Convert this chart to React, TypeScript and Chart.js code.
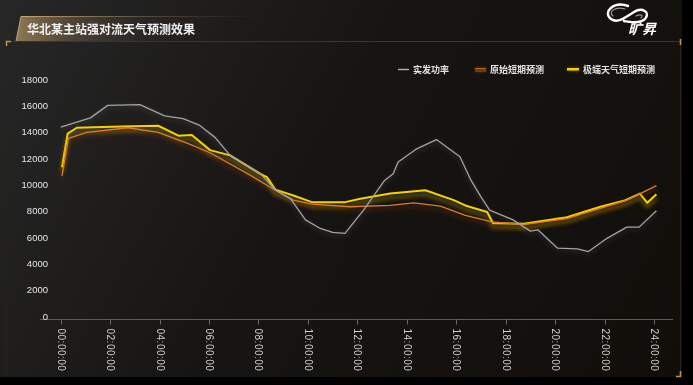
import React, { useEffect, useRef } from "react";
import { Chart, registerables } from "chart.js";

Chart.register(...registerables);

const TITLE = "华北某主站强对流天气预测效果";
const LOGO_TEXT = "旷昇";
const SERIES_NAMES = ["实发功率", "原始短期预测", "极端天气短期预测"];

const X_TICKS = [0, 2, 4, 6, 8, 10, 12, 14, 16, 18, 20, 22, 24];
const X_TICK_LABELS = [
  "00:00:00", "02:00:00", "04:00:00", "06:00:00", "08:00:00", "10:00:00", "12:00:00",
  "14:00:00", "16:00:00", "18:00:00", "20:00:00", "22:00:00", "24:00:00",
];
const Y_TICKS = [0, 2000, 4000, 6000, 8000, 10000, 12000, 14000, 16000, 18000];

// 实发功率
const actualHours = [0, 1.2, 1.9, 3.2, 4.2, 4.95, 5.6, 6.25, 6.85, 8.05, 8.7, 9.3, 9.9, 10.5, 11.0, 11.5, 12.25, 13.1, 13.45, 13.65, 14.4, 15.2, 16.15, 16.6, 17.0, 17.35, 18.3, 19.0, 19.3, 20.1, 20.9, 21.35, 22.1, 22.9, 23.4, 24.1];
const actualValues = [14500, 15200, 16150, 16200, 15350, 15150, 14650, 13700, 12350, 11000, 9700, 9050, 7450, 6800, 6500, 6420, 8200, 10450, 10950, 11850, 12850, 13550, 12250, 10450, 9200, 8200, 7450, 6600, 6700, 5300, 5250, 5050, 6050, 6900, 6900, 8150];

// 原始短期预测
const originalHours = [0.05, 0.31, 1.05, 2.73, 3.94, 5.16, 6.04, 7.66, 8.68, 9.41, 10.16, 11.71, 13.33, 14.28, 15.36, 16.37, 17.45, 18.73, 20.48, 22.91, 24.1];
const originalValues = [10800, 13650, 14100, 14450, 14100, 13250, 12550, 10850, 9700, 8950, 8650, 8450, 8550, 8750, 8500, 7800, 7300, 7100, 7550, 8950, 10050];

// 极端天气短期预测
const extremeHours = [0.05, 0.28, 0.65, 2.47, 3.94, 4.76, 5.3, 6.04, 6.85, 8.07, 8.34, 8.68, 9.41, 10.16, 11.51, 12.12, 13.33, 14.75, 15.9, 16.43, 17.25, 17.49, 18.73, 20.48, 21.83, 22.78, 23.43, 23.73, 24.1];
const extremeValues = [11450, 14000, 14450, 14550, 14600, 13850, 13900, 12750, 12350, 10950, 10700, 9750, 9300, 8800, 8800, 9050, 9450, 9700, 8950, 8500, 8050, 7200, 7150, 7650, 8450, 8900, 9450, 8750, 9400];

const toPoints = (xs: number[], ys: number[]) => xs.map((x, i) => ({ x, y: ys[i] }));

const LINE_COLORS = ["#a2a2a2", "#dc7a2e", "#f8d200"];
const LINE_WIDTHS = [1.3, 1.3, 2];
const SHADOWS = [
  { color: "rgba(150,150,150,0.35)", blur: 5, y: 2 },
  { color: "rgba(160,65,10,0.65)", blur: 4, y: 3 },
  { color: "rgba(170,150,0,0.8)", blur: 4, y: 4 },
];

const CJK = '"Noto Sans CJK SC", "Noto Sans", sans-serif';
const NUM = '"Liberation Sans", Arial, sans-serif';

const decoPlugin = {
  id: "deco",
  beforeDraw(chart: any) {
    const ctx: CanvasRenderingContext2D = chart.ctx;
    const W = chart.width, H = chart.height;
    ctx.save();
    ctx.fillStyle = "#000";
    ctx.fillRect(0, 0, W, H);
    const g = ctx.createLinearGradient(0, 0, 682, 377);
    g.addColorStop(0, "#272727");
    g.addColorStop(0.45, "#171513");
    g.addColorStop(1, "#110e0a");
    ctx.fillStyle = g;
    ctx.fillRect(0, 0, 682, 377);

    // frame
    ctx.lineWidth = 1;
    ctx.strokeStyle = "#3b352d";
    ctx.beginPath();
    ctx.moveTo(6, 41.5);
    ctx.lineTo(680, 41.5);
    ctx.stroke();
    ctx.strokeStyle = "#26221e";
    ctx.beginPath();
    ctx.moveTo(6.5, 41);
    ctx.lineTo(6.5, 376);
    ctx.moveTo(680.5, 41);
    ctx.lineTo(680.5, 376);
    ctx.stroke();
    ctx.strokeStyle = "#c8953c";
    ctx.lineWidth = 1.5;
    ctx.beginPath();
    ctx.moveTo(6.5, 46);
    ctx.lineTo(6.5, 41.5);
    ctx.lineTo(11, 41.5);
    ctx.moveTo(680.5, 39);
    ctx.lineTo(680.5, 45);
    ctx.moveTo(680.5, 371);
    ctx.lineTo(680.5, 376.5);
    ctx.lineTo(676, 376.5);
    ctx.stroke();

    // title box
    const tg = ctx.createLinearGradient(16, 0, 230, 0);
    tg.addColorStop(0, "rgba(165,135,92,0.85)");
    tg.addColorStop(0.25, "rgba(110,92,68,0.6)");
    tg.addColorStop(0.6, "rgba(60,54,46,0.3)");
    tg.addColorStop(1, "rgba(40,38,36,0)");
    ctx.fillStyle = tg;
    ctx.beginPath();
    ctx.moveTo(21, 16);
    ctx.lineTo(260, 16);
    ctx.lineTo(260, 41);
    ctx.lineTo(16, 41);
    ctx.closePath();
    ctx.fill();
    const bg = ctx.createLinearGradient(20, 0, 260, 0);
    bg.addColorStop(0, "rgba(210,178,128,0.8)");
    bg.addColorStop(1, "rgba(120,105,85,0)");
    ctx.strokeStyle = bg;
    ctx.lineWidth = 1;
    ctx.beginPath();
    ctx.moveTo(16, 41);
    ctx.lineTo(21, 16.5);
    ctx.lineTo(260, 16.5);
    ctx.stroke();
    ctx.fillStyle = "#f0f0f0";
    ctx.font = `bold 12px ${CJK}`;
    ctx.textBaseline = "middle";
    ctx.textAlign = "left";
    ctx.fillText(TITLE, 27, 29.5);

    // logo
    ctx.strokeStyle = "#ffffff";
    ctx.lineWidth = 2.4;
    ctx.lineCap = "round";
    ctx.beginPath();
    ctx.moveTo(628, 6);
    ctx.bezierCurveTo(614, 1, 602, 12, 611, 19);
    ctx.bezierCurveTo(618, 24, 626, 17, 634, 12);
    ctx.bezierCurveTo(642, 7, 651, 12, 645, 19);
    ctx.bezierCurveTo(640, 24, 631, 22, 624, 21);
    ctx.stroke();
    ctx.strokeStyle = "#9a9a9a";
    ctx.lineWidth = 1.2;
    ctx.beginPath();
    ctx.moveTo(625, 9);
    ctx.bezierCurveTo(615, 6, 608, 12, 613, 16);
    ctx.moveTo(636, 16);
    ctx.bezierCurveTo(640, 14, 644, 15, 641, 18);
    ctx.stroke();
    ctx.fillStyle = "#ffffff";
    ctx.font = `italic bold 14px ${CJK}`;
    ctx.textBaseline = "middle";
    ctx.fillText(LOGO_TEXT, 628, 29);
    ctx.restore();
  },
  beforeDatasetsDraw(chart: any) {
    const ctx: CanvasRenderingContext2D = chart.ctx;
    const xs = chart.scales.x, ys = chart.scales.y, ca = chart.chartArea;
    ctx.save();
    const axY = Math.round(ca.bottom) + 1.5;
    ctx.strokeStyle = "#5c5a57";
    ctx.lineWidth = 1;
    ctx.beginPath();
    ctx.moveTo(ca.left, axY);
    ctx.lineTo(ca.right, axY);
    ctx.stroke();
    ctx.fillStyle = "#cfcfcf";
    ctx.font = `10px ${NUM}`;
    (ctx as any).letterSpacing = "0.5px";
    X_TICKS.forEach((t, i) => {
      const px = Math.round(xs.getPixelForValue(t)) + 0.5;
      ctx.strokeStyle = "#6a6866";
      ctx.beginPath();
      ctx.moveTo(px, axY);
      ctx.lineTo(px, axY + 5);
      ctx.stroke();
      ctx.save();
      ctx.translate(px - 0.5, axY + 9);
      ctx.rotate(Math.PI / 2);
      ctx.textAlign = "left";
      ctx.textBaseline = "middle";
      ctx.fillText(X_TICK_LABELS[i], 0, 0);
      ctx.restore();
    });
    (ctx as any).letterSpacing = "0px";
    ctx.fillStyle = "#e6e6e6";
    ctx.font = `9.5px ${NUM}`;
    ctx.textAlign = "right";
    ctx.textBaseline = "middle";
    Y_TICKS.forEach((v) => {
      ctx.fillText(String(v), 48, ys.getPixelForValue(v) - 1);
    });

    // legend
    ctx.font = `bold 9px ${CJK}`;
    ctx.textAlign = "left";
    ctx.fillStyle = "#e4e4e4";
    const ly = 69.5;
    ctx.strokeStyle = "#b0b0b0";
    ctx.lineWidth = 1.4;
    ctx.beginPath();
    ctx.moveTo(398, ly);
    ctx.lineTo(409, ly);
    ctx.stroke();
    ctx.fillText(SERIES_NAMES[0], 413, ly);
    ctx.save();
    ctx.shadowColor = "rgba(150,60,10,0.7)";
    ctx.shadowBlur = 3;
    ctx.fillStyle = "#6e3a14";
    ctx.fillRect(475, 68, 11, 4);
    ctx.fillStyle = "#b0602a";
    ctx.fillRect(475, 68, 11, 1);
    ctx.restore();
    ctx.fillText(SERIES_NAMES[1], 490, ly);
    ctx.save();
    ctx.shadowColor = "rgba(175,155,0,0.6)";
    ctx.shadowBlur = 3;
    ctx.fillStyle = "#f5cf00";
    ctx.fillRect(567, 68, 12, 2.5);
    ctx.restore();
    ctx.fillText(SERIES_NAMES[2], 583, ly);
    ctx.restore();
  },
  beforeDatasetDraw(chart: any, args: any) {
    const ctx: CanvasRenderingContext2D = chart.ctx;
    ctx.save();
    const s = SHADOWS[args.index];
    ctx.shadowColor = s.color;
    ctx.shadowBlur = s.blur;
    ctx.shadowOffsetY = s.y;
  },
  afterDatasetDraw(chart: any) {
    chart.ctx.restore();
  },
};

export default function App() {
  const ref = useRef<HTMLCanvasElement>(null);
  useEffect(() => {
    const canvas = ref.current!;
    const seriesX = [actualHours, originalHours, extremeHours];
    const seriesY = [actualValues, originalValues, extremeValues];
    const chart = new Chart(canvas, {
      type: "line",
      data: {
        datasets: SERIES_NAMES.map((name, i) => ({
          label: name,
          data: toPoints(seriesX[i], seriesY[i]),
          borderColor: LINE_COLORS[i],
          borderWidth: LINE_WIDTHS[i],
          pointRadius: 0,
          tension: 0,
          fill: false,
          borderJoinStyle: "round" as const,
        })),
      },
      options: {
        animation: false,
        responsive: false,
        devicePixelRatio: 1,
        layout: { padding: { left: 40, right: 20, top: 81, bottom: 67 } },
        scales: {
          x: { type: "linear", min: -0.84, max: 24.77, display: false },
          y: { type: "linear", min: 0, max: 18000, display: false },
        },
        plugins: { legend: { display: false }, tooltip: { enabled: false } },
      },
      plugins: [decoPlugin],
    } as any);
    return () => chart.destroy();
  }, []);
  return (
    <canvas
      ref={ref}
      width={693}
      height={385}
      style={{ position: "fixed", left: 0, top: 0, width: 693, height: 385, display: "block" }}
    />
  );
}
